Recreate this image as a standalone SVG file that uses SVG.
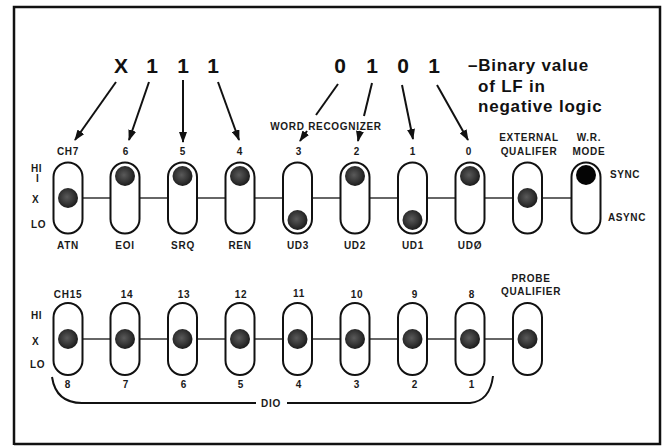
<svg xmlns="http://www.w3.org/2000/svg" width="668" height="447" viewBox="0 0 668 447">
<defs>
<marker id="ah" markerUnits="userSpaceOnUse" markerWidth="11" markerHeight="8" refX="10" refY="4" orient="auto">
<path d="M0,0 L11,4 L0,8 z" fill="#111"/>
</marker>
<radialGradient id="ball" cx="45%" cy="45%" r="60%">
<stop offset="0" stop-color="#5a5a5a"/>
<stop offset="0.6" stop-color="#333"/>
<stop offset="1" stop-color="#151515"/>
</radialGradient>
<style>
.sw{fill:#fff;stroke:#111;stroke-width:2}
.b{fill:url(#ball)}
.t{font-family:"Liberation Sans",Arial,sans-serif;font-weight:bold;font-size:10px;letter-spacing:0.7px;fill:#1a1a1a;text-anchor:middle}
.ts{font-family:"Liberation Sans",Arial,sans-serif;font-weight:bold;font-size:10px;letter-spacing:0.6px;fill:#1a1a1a}
.big{font-family:"Liberation Sans",Arial,sans-serif;font-weight:bold;font-size:21px;fill:#111;text-anchor:middle}
.cap{font-family:"Liberation Sans",Arial,sans-serif;font-weight:bold;font-size:17px;letter-spacing:0.8px;fill:#111}
.ln{stroke:#111;stroke-width:2;fill:none}
.wire{stroke:#333;stroke-width:1.6;fill:none}
</style>
</defs>
<rect width="668" height="447" fill="#fff"/>
<g id="frame" fill="none" stroke="#111">
<path d="M14,445 L14,7 L660,7 L660,444 L14,444" stroke-width="2.5"/>
</g>

<g id="heading">
<text class="big" x="121" y="73">X</text>
<text class="big" x="152" y="73">1</text>
<text class="big" x="183" y="73">1</text>
<text class="big" x="213" y="73">1</text>
<text class="big" x="340" y="73">0</text>
<text class="big" x="372" y="73">1</text>
<text class="big" x="403" y="73">0</text>
<text class="big" x="434" y="73">1</text>
<text class="cap" x="468" y="71">–Binary value</text>
<text class="cap" x="478" y="92">of LF in</text>
<text class="cap" x="478" y="112">negative logic</text>
</g>

<g id="connectors">
<line class="ln" x1="116" y1="82" x2="75" y2="140" marker-end="url(#ah)"/>
<line class="ln" x1="149" y1="82" x2="129" y2="140" marker-end="url(#ah)"/>
<line class="ln" x1="183" y1="80" x2="183" y2="142" marker-end="url(#ah)"/>
<line class="ln" x1="218" y1="82" x2="239" y2="140" marker-end="url(#ah)"/>
<line class="ln" x1="338" y1="84" x2="316" y2="115"/>
<line class="ln" x1="307" y1="131" x2="300" y2="141" marker-end="url(#ah)"/>
<line class="ln" x1="372" y1="83" x2="364" y2="116"/>
<line class="ln" x1="360" y1="131" x2="358" y2="141" marker-end="url(#ah)"/>
<line class="ln" x1="402" y1="85" x2="413" y2="139" marker-end="url(#ah)"/>
<line class="ln" x1="437" y1="85" x2="468" y2="140" marker-end="url(#ah)"/>
<line class="wire" x1="68" y1="198" x2="586" y2="198"/>
<line class="wire" x1="68" y1="339" x2="529" y2="339"/>
<path class="ln" d="M52,377 Q56,403 82,403 L256,403 M287,403 L470,403 Q490,401 493,376" stroke-width="1.6"/>
</g>

<g id="labels">
<text class="t" x="326" y="130">WORD RECOGNIZER</text>
<text class="ts" x="31" y="172">HI</text>
<text class="ts" x="36" y="182" font-size="8">I</text>
<text class="ts" x="32" y="203">X</text>
<text class="ts" x="31" y="228">LO</text>
<text class="ts" x="610" y="178">SYNC</text>
<text class="ts" x="608" y="221">ASYNC</text>
<text class="ts" x="31" y="319">HI</text>
<text class="ts" x="32" y="345">X</text>
<text class="ts" x="30" y="368">LO</text>
<text class="t" x="271" y="407">DIO</text>
</g>

<g id="sw-ch7"><text class="t" x="68" y="155">CH7</text><rect class="sw" x="53.5" y="162.5" width="29" height="71" rx="14.5"/><circle class="b" cx="68" cy="198" r="10"/><text class="t" x="68" y="249">ATN</text></g>
<g id="sw-6"><text class="t" x="126" y="155">6</text><rect class="sw" x="110.5" y="162.5" width="29" height="71" rx="14.5"/><circle class="b" cx="125" cy="176" r="10"/><text class="t" x="125" y="249">EOI</text></g>
<g id="sw-5"><text class="t" x="183" y="155">5</text><rect class="sw" x="168" y="162.5" width="29" height="71" rx="14.5"/><circle class="b" cx="182.5" cy="176" r="10"/><text class="t" x="183" y="249">SRQ</text></g>
<g id="sw-4"><text class="t" x="240" y="155">4</text><rect class="sw" x="225.5" y="162.5" width="29" height="71" rx="14.5"/><circle class="b" cx="240" cy="176" r="10"/><text class="t" x="240" y="249">REN</text></g>
<g id="sw-3"><text class="t" x="299" y="155">3</text><rect class="sw" x="283" y="162.5" width="29" height="71" rx="14.5"/><circle class="b" cx="297.5" cy="220" r="10"/><text class="t" x="298" y="249">UD3</text></g>
<g id="sw-2"><text class="t" x="357" y="155">2</text><rect class="sw" x="340.5" y="162.5" width="29" height="71" rx="14.5"/><circle class="b" cx="355" cy="176" r="10"/><text class="t" x="355" y="249">UD2</text></g>
<g id="sw-1"><text class="t" x="413" y="155">1</text><rect class="sw" x="398" y="162.5" width="29" height="71" rx="14.5"/><circle class="b" cx="412.5" cy="220" r="10"/><text class="t" x="413" y="249">UD1</text></g>
<g id="sw-0"><text class="t" x="469" y="155">0</text><rect class="sw" x="455.5" y="162.5" width="29" height="71" rx="14.5"/><circle class="b" cx="470" cy="176" r="10"/><text class="t" x="470" y="249">UDØ</text></g>
<g id="sw-ext"><text class="t" x="529" y="141">EXTERNAL</text><text class="t" x="529" y="155">QUALIFER</text><rect class="sw" x="513" y="162.5" width="29" height="71" rx="14.5"/><circle class="b" cx="527.5" cy="198" r="10"/></g>
<g id="sw-wr"><text class="t" x="589" y="141">W.R.</text><text class="t" x="589" y="155">MODE</text><rect class="sw" x="571.5" y="162.5" width="29" height="71" rx="14.5"/><circle cx="586" cy="175" r="10" fill="#050505"/></g>

<g id="sw-ch15"><text class="t" x="68" y="298">CH15</text><rect class="sw" x="53.5" y="303" width="29" height="72" rx="14.5"/><circle class="b" cx="68" cy="339" r="10"/><text class="t" x="68" y="388">8</text></g>
<g id="sw-14"><text class="t" x="127" y="298">14</text><rect class="sw" x="110.5" y="303" width="29" height="72" rx="14.5"/><circle class="b" cx="125" cy="339" r="10"/><text class="t" x="126" y="388">7</text></g>
<g id="sw-13"><text class="t" x="184" y="298">13</text><rect class="sw" x="168" y="303" width="29" height="72" rx="14.5"/><circle class="b" cx="182.5" cy="339" r="10"/><text class="t" x="184" y="388">6</text></g>
<g id="sw-12"><text class="t" x="241" y="298">12</text><rect class="sw" x="225.5" y="303" width="29" height="72" rx="14.5"/><circle class="b" cx="240" cy="339" r="10"/><text class="t" x="241" y="388">5</text></g>
<g id="sw-11"><text class="t" x="299" y="297">11</text><rect class="sw" x="283" y="303" width="29" height="72" rx="14.5"/><circle class="b" cx="297.5" cy="339" r="10"/><text class="t" x="299" y="388">4</text></g>
<g id="sw-10"><text class="t" x="357" y="298">10</text><rect class="sw" x="340.5" y="303" width="29" height="72" rx="14.5"/><circle class="b" cx="355" cy="339" r="10"/><text class="t" x="357" y="388">3</text></g>
<g id="sw-9"><text class="t" x="415" y="298">9</text><rect class="sw" x="398" y="303" width="29" height="72" rx="14.5"/><circle class="b" cx="412.5" cy="339" r="10"/><text class="t" x="415" y="388">2</text></g>
<g id="sw-8"><text class="t" x="472" y="298">8</text><rect class="sw" x="455.5" y="303" width="29" height="72" rx="14.5"/><circle class="b" cx="470" cy="339" r="10"/><text class="t" x="472" y="388">1</text></g>
<g id="sw-probe"><text class="t" x="531" y="282">PROBE</text><text class="t" x="531" y="295">QUALIFIER</text><rect class="sw" x="513" y="303" width="29" height="72" rx="14.5"/><circle class="b" cx="527.5" cy="339" r="10"/></g>
</svg>
